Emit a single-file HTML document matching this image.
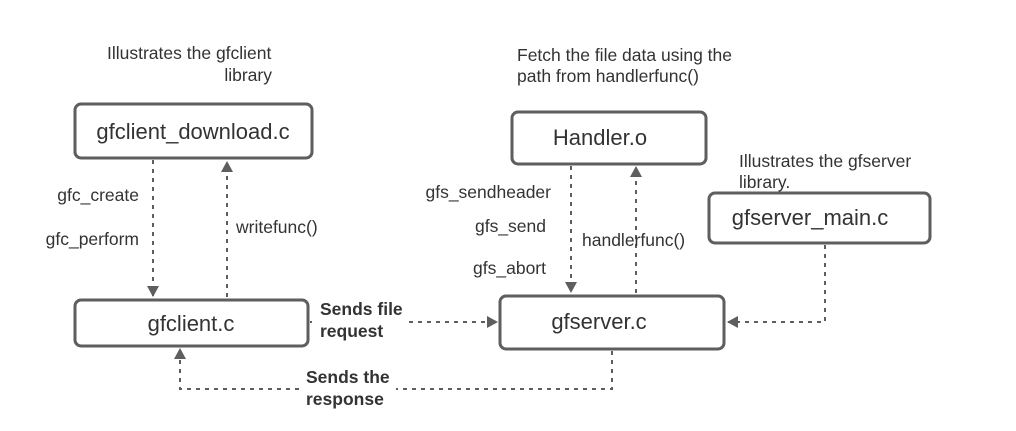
<!DOCTYPE html>
<html><head><style>
html,body{margin:0;padding:0;background:#fff;}
svg{display:block;}
text{font-family:"Liberation Sans",sans-serif;fill:#333;}
</style></head><body>
<svg width="1016" height="431" viewBox="0 0 1016 431" xmlns="http://www.w3.org/2000/svg">
<defs>
<marker id="a" markerWidth="12" markerHeight="12" refX="10" refY="6" orient="auto" markerUnits="userSpaceOnUse">
<path d="M0,0 L11,6 L0,12 z" fill="#5e5e5e"/>
</marker>
</defs>
<g fill="#fff" stroke="#5e5e5e" stroke-width="3">
<rect x="75" y="104" width="237" height="54" rx="6"/>
<rect x="75" y="300" width="233" height="46" rx="6"/>
<rect x="512" y="112" width="194" height="52" rx="6"/>
<rect x="709" y="193" width="221" height="50" rx="6"/>
<rect x="500" y="296" width="224" height="53" rx="6"/>
</g>
<g fill="none" stroke="#5e5e5e" stroke-width="2" stroke-dasharray="4,5">
<path d="M153 160 V296" marker-end="url(#a)"/>
<path d="M227 297 V162" marker-end="url(#a)"/>
<path d="M571 166 V292" marker-end="url(#a)"/>
<path d="M636 293 V167" marker-end="url(#a)"/>
<path d="M825 245 V322 H728" marker-end="url(#a)"/>
<path d="M310 322 H497" marker-end="url(#a)"/>
<path d="M612 351 V389 H180 V349" marker-end="url(#a)"/>
</g>
<rect x="312" y="298" width="94" height="46" fill="#fff"/>
<rect x="300" y="367" width="96" height="46" fill="#fff"/>
<g font-size="22">
<text x="193" y="139" text-anchor="middle">gfclient_download.c</text>
<text x="191" y="331" text-anchor="middle">gfclient.c</text>
<text x="600" y="145" text-anchor="middle">Handler.o</text>
<text x="810" y="225" text-anchor="middle">gfserver_main.c</text>
<text x="599" y="329" text-anchor="middle">gfserver.c</text>
</g>
<g font-size="17.5">
<text x="107" y="59">Illustrates the gfclient</text>
<text x="272" y="81" text-anchor="end">library</text>
<text x="517" y="61">Fetch the file data using the</text>
<text x="517" y="82">path from handlerfunc()</text>
<text x="739" y="167">Illustrates the gfserver</text>
<text x="739" y="188">library.</text>
<text x="139" y="201" text-anchor="end">gfc_create</text>
<text x="139" y="245" text-anchor="end">gfc_perform</text>
<text x="236" y="233">writefunc()</text>
<text x="551" y="198" text-anchor="end">gfs_sendheader</text>
<text x="546" y="232" text-anchor="end">gfs_send</text>
<text x="546" y="274" text-anchor="end">gfs_abort</text>
<text x="582" y="246">handlerfunc()</text>
</g>
<g font-size="17.5" font-weight="bold">
<text x="320" y="315">Sends file</text>
<text x="320" y="337">request</text>
<text x="306" y="383">Sends the</text>
<text x="306" y="405">response</text>
</g>
</svg>
</body></html>
